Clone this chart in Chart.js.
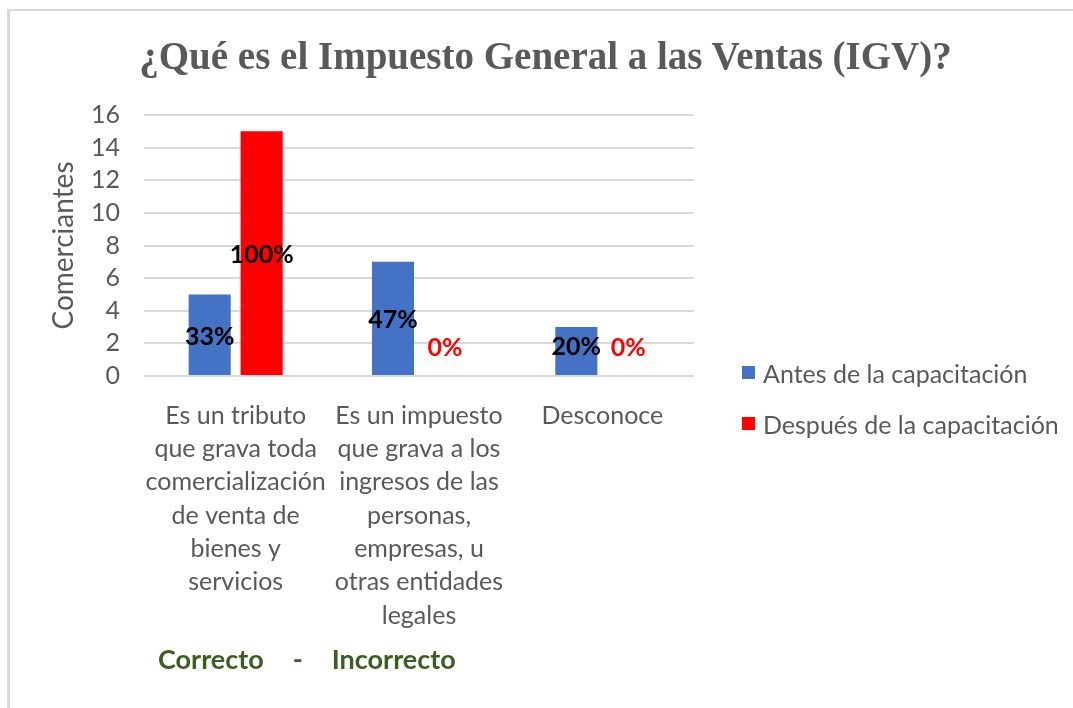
<!DOCTYPE html>
<html lang="es">
<head>
<meta charset="utf-8">
<title>IGV</title>
<script src="https://cdn.jsdelivr.net/npm/chart.js@4.4.1/dist/chart.umd.min.js"></script>
<style>
  body { margin: 0; background: #fff; overflow: hidden; }
  #wrap { position: relative; width: 1073px; height: 708px; }
  #marco {
    position: absolute; top: 9px; left: 7px; right: -10px; bottom: -10px;
    border-top: 2px solid #d9d9d9; border-left: 3px solid #d9d9d9;
  }
  #titulo {
    position: absolute; top: 32px; left: 18px; width: 1055px; text-align: center;
    font: bold 39px "Liberation Serif", "Times New Roman", serif; color: #595959;
    line-height: 48px; white-space: nowrap;
  }
  #leyenda { position: absolute; left: 742px; top: 347px; }
  #leyenda div { height: 51px; display: flex; align-items: center; white-space: nowrap;
    font: 25px Lato, sans-serif; color: #595959; }
  #leyenda span.cuadro { display: inline-block; width: 13px; height: 13px; margin-right: 8px; }
  #nota { position: absolute; left: 158px; top: 642px; white-space: nowrap;
    font: bold 27px Lato, sans-serif; color: #3b5e22; }
  #nota span { margin-right: 29px; }
  canvas { position: absolute; top: 0; left: 0; }
</style>
</head>
<body>
<div id="wrap">
  <div id="marco"></div>
  <canvas id="grafico" width="1073" height="708"></canvas>
  <div id="titulo">¿Qué es el Impuesto General a las Ventas (IGV)?</div>
  <div id="leyenda"></div>
  <div id="nota"><span>Correcto</span><span>-</span><span>Incorrecto</span></div>
</div>
<script>
  // --- Datos ---
  const categorias = [
    ["Es un tributo", "que grava toda", "comercialización", "de venta de", "bienes y", "servicios"],
    ["Es un impuesto", "que grava a los", "ingresos de las", "personas,", "empresas, u", "otras entidades", "legales"],
    ["Desconoce"]
  ];
  const serieAntes = "Antes de la capacitación";
  const serieDespues = "Después de la capacitación";
  const valoresAntes = [5, 7, 3];
  const valoresDespues = [15, 0, 0];
  const porcentajesAntes = [33, 47, 20];
  const porcentajesDespues = [100, 0, 0];
  const ejeY = { min: 0, max: 16, paso: 2 };

  const fuente = "Lato, sans-serif";
  const gris = "#595959";

  // etiquetas de porcentaje sobre las barras
  const etiquetasPlugin = {
    id: "etiquetas",
    afterDatasetsDraw(chart) {
      const ctx = chart.ctx;
      ctx.save();
      ctx.font = "bold 25px " + fuente;
      ctx.textAlign = "center";
      ctx.textBaseline = "middle";
      chart.data.datasets.forEach((ds, i) => {
        chart.getDatasetMeta(i).data.forEach((bar, j) => {
          const v = ds.data[j];
          const y = Math.min((bar.y + bar.base) / 2 + 2, bar.base - 28);
          ctx.fillStyle = v > 0 ? "#000" : ds.backgroundColor;
          ctx.fillText(ds.porcentajes[j] + "%", bar.x, y);
        });
      });
      ctx.restore();
    }
  };

  const chart = new Chart(document.getElementById("grafico"), {
    type: "bar",
    data: {
      labels: categorias,
      datasets: [
        { label: serieAntes, data: valoresAntes, porcentajes: porcentajesAntes,
          backgroundColor: "#4472c4", barPercentage: 0.81, categoryPercentage: 0.567 },
        { label: serieDespues, data: valoresDespues, porcentajes: porcentajesDespues,
          backgroundColor: "#ff0000", barPercentage: 0.81, categoryPercentage: 0.567 }
      ]
    },
    options: {
      responsive: false,
      animation: false,
      layout: { padding: { left: 47, right: 379, top: 115, bottom: 0 } },
      plugins: {
        legend: { display: false },
        title: { display: false },
        tooltip: { enabled: false }
      },
      scales: {
        x: {
          grid: { display: false },
          border: { display: false },
          ticks: { color: gris, padding: 15, maxRotation: 0, autoSkip: false,
            font: { family: fuente, size: 25, lineHeight: 1.332 } },
          afterFit: (s) => { s.height = 332; }
        },
        y: {
          min: ejeY.min,
          max: ejeY.max,
          grid: { color: "#d9d9d9", lineWidth: 2, drawTicks: false },
          border: { display: false },
          ticks: { stepSize: ejeY.paso, autoSkip: false, color: gris, padding: 24,
            font: { family: fuente, size: 25 } },
          title: { display: true, text: "Comerciantes", color: gris, padding: 0,
            font: { family: fuente, size: 28 } },
          afterFit: (s) => { s.width = 97; }
        }
      }
    },
    plugins: [etiquetasPlugin]
  });

  // --- Leyenda HTML ---
  const leyenda = document.getElementById("leyenda");
  chart.data.datasets.forEach((ds) => {
    const fila = document.createElement("div");
    const cuadro = document.createElement("span");
    cuadro.className = "cuadro";
    cuadro.style.background = ds.backgroundColor;
    fila.appendChild(cuadro);
    fila.appendChild(document.createTextNode(ds.label));
    leyenda.appendChild(fila);
  });
</script>
</body>
</html>
